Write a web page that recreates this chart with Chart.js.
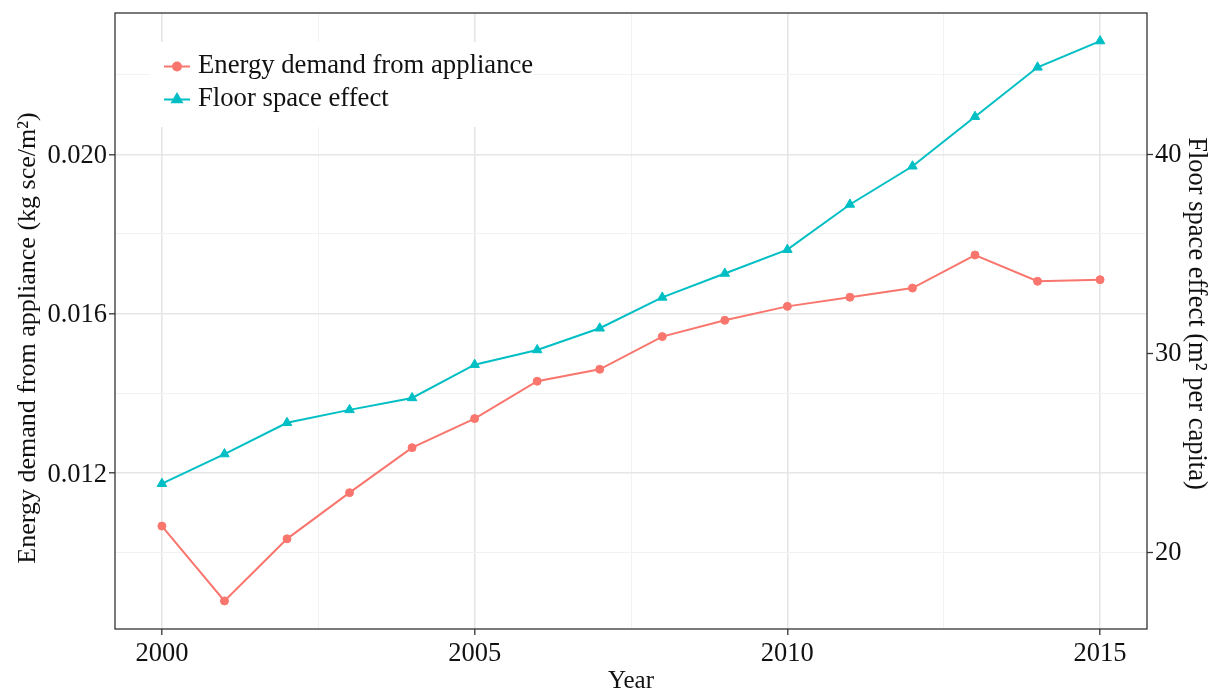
<!DOCTYPE html>
<html>
<head>
<meta charset="utf-8">
<title>Energy demand and floor space</title>
<script src="https://cdn.jsdelivr.net/npm/chart.js@4.4.1/dist/chart.umd.min.js"></script>
<style>
  html, body { margin: 0; padding: 0; background: #fff; }
  #wrap { position: relative; width: 1217px; height: 691px; }
</style>
</head>
<body>
<div id="wrap"><canvas id="chart" width="1217" height="691"></canvas></div>
<script>
// values
const years = [2000, 2001, 2002, 2003, 2004, 2005, 2006, 2007, 2008, 2009, 2010, 2011, 2012, 2013, 2014, 2015];
const energyDemand = [0.01066, 0.00878, 0.01034, 0.01150, 0.01263, 0.01336, 0.01430, 0.01460,
                      0.01542, 0.01583, 0.01618, 0.01641, 0.01664, 0.01747, 0.01681, 0.01685];
const floorSpace = [23.45, 24.94, 26.51, 27.16, 27.76, 29.43, 30.17, 31.26,
                    32.81, 34.01, 35.21, 37.48, 39.40, 41.89, 44.37, 45.69];

// tick labels / grid breaks
const xMajor = [2000, 2005, 2010, 2015];
const xMinor = [2002.5, 2007.5, 2012.5];
const yMajor = [0.012, 0.016, 0.020];
const yMinor = [0.010, 0.014, 0.018, 0.022];
const y2Ticks = [20, 30, 40];

const leftTitle = 'Energy demand from appliance (kg sce/m²)';
const rightTitle = 'Floor space effect (m² per capita)';

const SERIF = '"Liberation Serif", "Times New Roman", serif';
const INK = '#111';
const FRAME = '#333';

const isIn = (arr, v) => arr.some(a => Math.abs(a - v) < 1e-9);
const gridColor = (major) => (c) => isIn(major, c.tick.value) ? '#e6e6e6' : '#f2f2f2';
const gridWidth = (major) => (c) => isIn(major, c.tick.value) ? 1.6 : 1;
const tickColor = (major) => (c) => isIn(major, c.tick.value) ? FRAME : 'rgba(0,0,0,0)';
const setTicks = (list) => (scale) => { scale.ticks = list.slice().sort((a, b) => a - b).map(v => ({ value: v })); };
// fixed axis sizes, no extra label overhang padding
const fitV = (w) => (s) => { s.width = w; s.paddingTop = 0; s.paddingBottom = 0; };
const fitH = (h) => (s) => { s.height = h; s.paddingLeft = 0; s.paddingRight = 0; };

// panel frame + rotated axis titles (ggplot centres them a bit off the panel middle)
const frame = {
  id: 'frame',
  afterDraw(chart) {
    const { ctx, chartArea: a } = chart;
    ctx.save();
    ctx.strokeStyle = FRAME;
    ctx.lineWidth = 1.3;
    ctx.strokeRect(a.left, a.top, a.right - a.left, a.bottom - a.top);

    ctx.fillStyle = INK;
    ctx.textAlign = 'center';
    ctx.textBaseline = 'middle';
    ctx.font = '26px ' + SERIF;
    ctx.translate(28, 338);
    ctx.rotate(-Math.PI / 2);
    ctx.fillText(leftTitle, 0, 0);
    ctx.setTransform(1, 0, 0, 1, 0, 0);
    ctx.font = '26.5px ' + SERIF;
    ctx.translate(1196, 313.5);
    ctx.rotate(Math.PI / 2);
    ctx.fillText(rightTitle, 0, 0);
    ctx.restore();
  }
};

// ggplot-style legend inside the panel, white key background
const legendBox = {
  id: 'legendBox',
  beforeDatasetsDraw(chart) {
    const { ctx } = chart;
    ctx.save();
    ctx.fillStyle = '#fff';
    ctx.fillRect(150, 42, 384, 85);
    chart.data.datasets.forEach((ds, i) => {
      const y = 66.5 + i * 33;
      ctx.strokeStyle = ds.borderColor;
      ctx.lineWidth = 2;
      ctx.beginPath();
      ctx.moveTo(164, y);
      ctx.lineTo(190, y);
      ctx.stroke();
      ctx.fillStyle = ds.backgroundColor;
      ctx.strokeStyle = ds.borderColor;
      Chart.helpers.drawPoint(ctx, { pointStyle: ds.pointStyle, rotation: 0, radius: ds.pointRadius, borderWidth: 1 }, 177, y);
      ctx.fillStyle = INK;
      ctx.font = '26.7px ' + SERIF;
      ctx.textBaseline = 'alphabetic';
      ctx.textAlign = 'left';
      ctx.fillText(ds.label, 198, y + 6.5);
    });
    ctx.restore();
  }
};

new Chart(document.getElementById('chart'), {
  type: 'line',
  data: {
    datasets: [
      {
        label: 'Energy demand from appliance',
        data: years.map((y, i) => ({ x: y, y: energyDemand[i] })),
        yAxisID: 'y',
        borderColor: '#F8766D',
        backgroundColor: '#F8766D',
        borderWidth: 2,
        pointStyle: 'circle',
        pointRadius: 4,
        pointBorderWidth: 1,
        tension: 0
      },
      {
        label: 'Floor space effect',
        data: years.map((y, i) => ({ x: y, y: floorSpace[i] })),
        yAxisID: 'y1',
        borderColor: '#00BFC4',
        backgroundColor: '#00BFC4',
        borderWidth: 2,
        pointStyle: 'triangle',
        pointRadius: 5.5,
        pointBorderWidth: 1,
        tension: 0
      }
    ]
  },
  options: {
    responsive: false,
    animation: false,
    devicePixelRatio: 1,
    layout: { padding: { top: 13, left: 0, right: 0, bottom: 0 } },
    plugins: { legend: { display: false }, tooltip: { enabled: false } },
    scales: {
      x: {
        type: 'linear',
        min: 1999.25,
        max: 2015.75,
        afterBuildTicks: setTicks([...xMajor, ...xMinor]),
        afterFit: fitH(62),
        border: { display: false },
        grid: { color: gridColor(xMajor), lineWidth: gridWidth(xMajor), tickColor: tickColor(xMajor), tickLength: 6, tickWidth: 1.3 },
        ticks: {
          autoSkip: false, maxRotation: 0, padding: 3, color: INK,
          font: { family: SERIF, size: 26.5 },
          callback: (v) => isIn(xMajor, v) ? String(v) : ''
        },
        title: { display: true, text: 'Year', color: INK, font: { family: SERIF, size: 25, lineHeight: 1 }, padding: { top: 0, bottom: -3 } }
      },
      y: {
        position: 'left',
        min: 0.008075,
        max: 0.02355,
        afterBuildTicks: setTicks([...yMajor, ...yMinor]),
        afterFit: fitV(115),
        border: { display: false },
        grid: { color: gridColor(yMajor), lineWidth: gridWidth(yMajor), tickColor: tickColor(yMajor), tickLength: 6, tickWidth: 1.3 },
        ticks: {
          autoSkip: false, padding: 2, labelOffset: 2, color: INK,
          font: { family: SERIF, size: 26.5 },
          callback: (v) => isIn(yMajor, v) ? v.toFixed(3) : ''
        }
      },
      y1: {
        position: 'right',
        min: 16.15,
        max: 47.1,
        afterBuildTicks: setTicks(y2Ticks),
        afterFit: fitV(70),
        border: { display: false },
        grid: { drawOnChartArea: false, tickColor: FRAME, tickLength: 6, tickWidth: 1.3 },
        ticks: {
          autoSkip: false, padding: 2, labelOffset: 1, color: INK,
          font: { family: SERIF, size: 26.5 },
          callback: (v) => String(v)
        }
      }
    }
  },
  plugins: [legendBox, frame]
});
</script>
</body>
</html>
